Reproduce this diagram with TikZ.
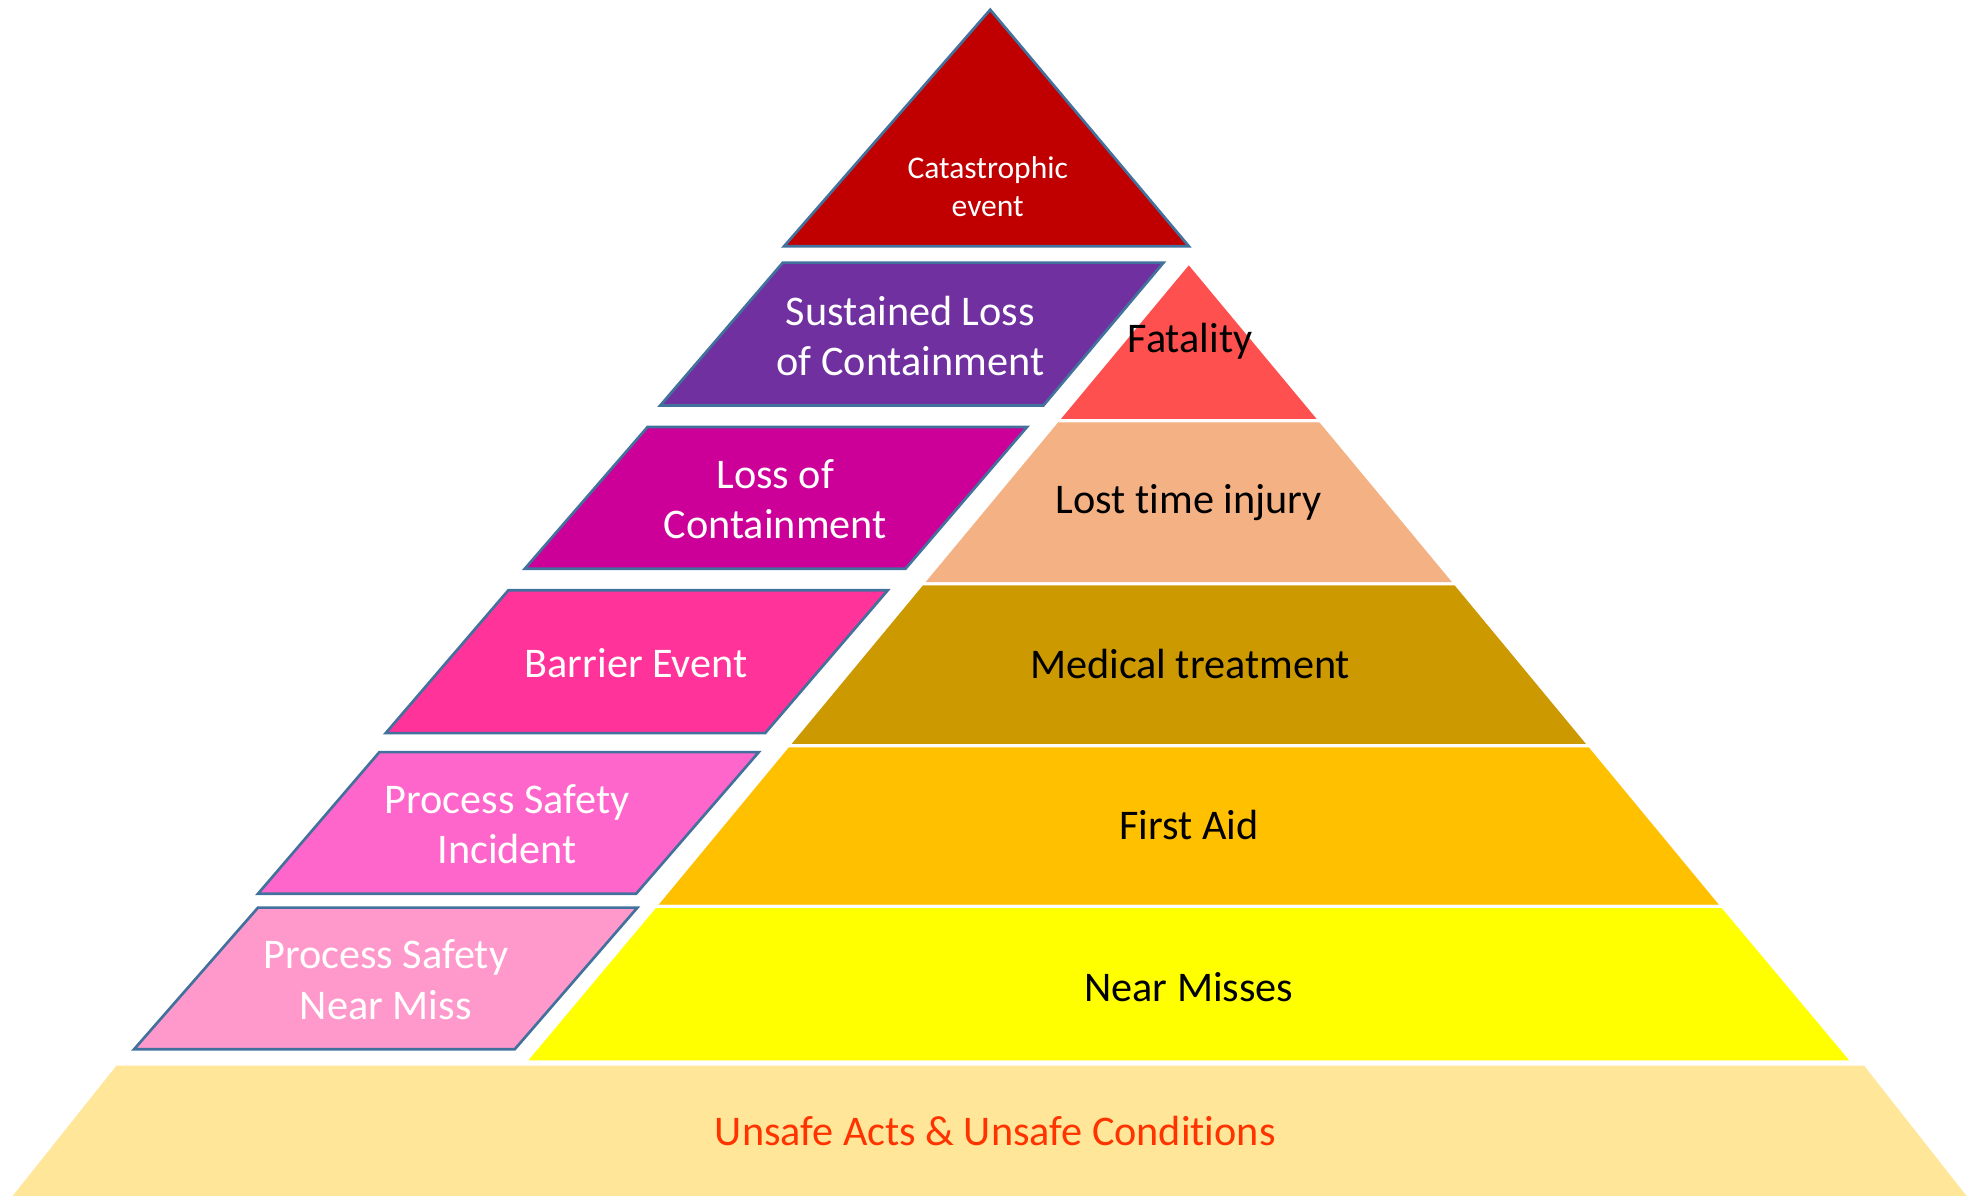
\documentclass[tikz,border=0pt]{standalone}
\usepackage{fontspec}
\setmainfont[Ligatures=NoCommon]{Carlito}

\definecolor{edgeblue}{HTML}{41719C}
\definecolor{catred}{HTML}{C00000}
\definecolor{slocpurple}{HTML}{7030A0}
\definecolor{locmagenta}{HTML}{CC0099}
\definecolor{barrierpink}{HTML}{FF3399}
\definecolor{psipink}{HTML}{FF66CC}
\definecolor{psnmpink}{HTML}{FF99CC}
\definecolor{fatalred}{HTML}{FF5050}
\definecolor{ltipeach}{HTML}{F4B183}
\definecolor{medgold}{HTML}{CC9900}
\definecolor{aidamber}{HTML}{FFC000}
\definecolor{nearyellow}{HTML}{FFFF00}
\definecolor{basecream}{HTML}{FFE699}
\definecolor{unsafered}{HTML}{FF3300}

\begin{document}
\begin{tikzpicture}[
  psbox/.style={draw=edgeblue, line width=0.6pt, line join=miter, fill=#1},
  band/.style={draw=white, line width=0.7pt, fill=#1},
  wtext/.style={text=white, align=center, font=\fontsize{9.5}{11.4}\selectfont},
  btext/.style={text=black, align=center, font=\fontsize{9.5}{11.4}\selectfont}
]
\useasboundingbox (0,0) rectangle (15.68,9.457);

%Top
\draw[psbox=catred] (7.83,9.38) -- (9.40,7.51) -- (6.20,7.51) -- cycle;
\node[wtext, font=\fontsize{7.1}{8.5}\selectfont] (cat) at (7.81,7.98) {Catastrophic\\event};

%Process safety side
\draw[psbox=slocpurple] (6.19,7.38) -- (9.20,7.38) -- (8.25,6.25) -- (5.22,6.25) -- cycle;
\node[wtext] (sloc) at (7.20,6.80) {Sustained Loss\\of Containment};

\draw[psbox=locmagenta] (5.12,6.08) -- (8.12,6.08) -- (7.16,4.96) -- (4.15,4.96) -- cycle;
\node[wtext] (loc) at (6.13,5.51) {Loss of\\Containment};

\draw[psbox=barrierpink] (4.02,4.79) -- (7.02,4.79) -- (6.05,3.66) -- (3.05,3.66) -- cycle;
\node[wtext] (barrier) at (5.03,4.21) {Barrier Event};

\draw[psbox=psipink] (3.00,3.51) -- (6.00,3.51) -- (5.03,2.39) -- (2.04,2.39) -- cycle;
\node[wtext] (psi) at (4.01,2.94) {Process Safety\\Incident};

\draw[psbox=psnmpink] (2.04,2.28) -- (5.04,2.28) -- (4.07,1.16) -- (1.06,1.16) -- cycle;
\node[wtext] (psnm) at (3.05,1.71) {Process Safety\\Near Miss};

%Personal safety side
\draw[band=fatalred] (9.40,7.38) -- (10.44,6.13) -- (8.36,6.13) -- cycle;
\node[btext] (fatal) at (9.41,6.76) {Fatality};

\draw[band=ltipeach] (8.36,6.13) -- (10.44,6.13) -- (11.51,4.84) -- (7.29,4.84) -- cycle;
\node[btext] (lti) at (9.40,5.48) {Lost time injury};

\draw[band=medgold] (7.29,4.84) -- (11.51,4.84) -- (12.57,3.56) -- (6.23,3.56) -- cycle;
\node[btext] (med) at (9.41,4.21) {Medical treatment};

\draw[band=aidamber] (6.23,3.56) -- (12.57,3.56) -- (13.62,2.29) -- (5.18,2.29) -- cycle;
\node[btext] (aid) at (9.40,2.93) {First Aid};

\draw[band=nearyellow] (5.18,2.29) -- (13.62,2.29) -- (14.65,1.06) -- (4.15,1.06) -- cycle;
\node[btext] (near) at (9.40,1.65) {Near Misses};

%Base
\fill[basecream] (0.92,1.03) -- (14.74,1.03) -- (15.55,0) -- (0.10,0) -- cycle;
\node[text=unsafered, font=\fontsize{9.5}{11.4}\selectfont] (unsafe) at (7.87,0.51) {Unsafe Acts \& Unsafe Conditions};

\end{tikzpicture}
\end{document}
